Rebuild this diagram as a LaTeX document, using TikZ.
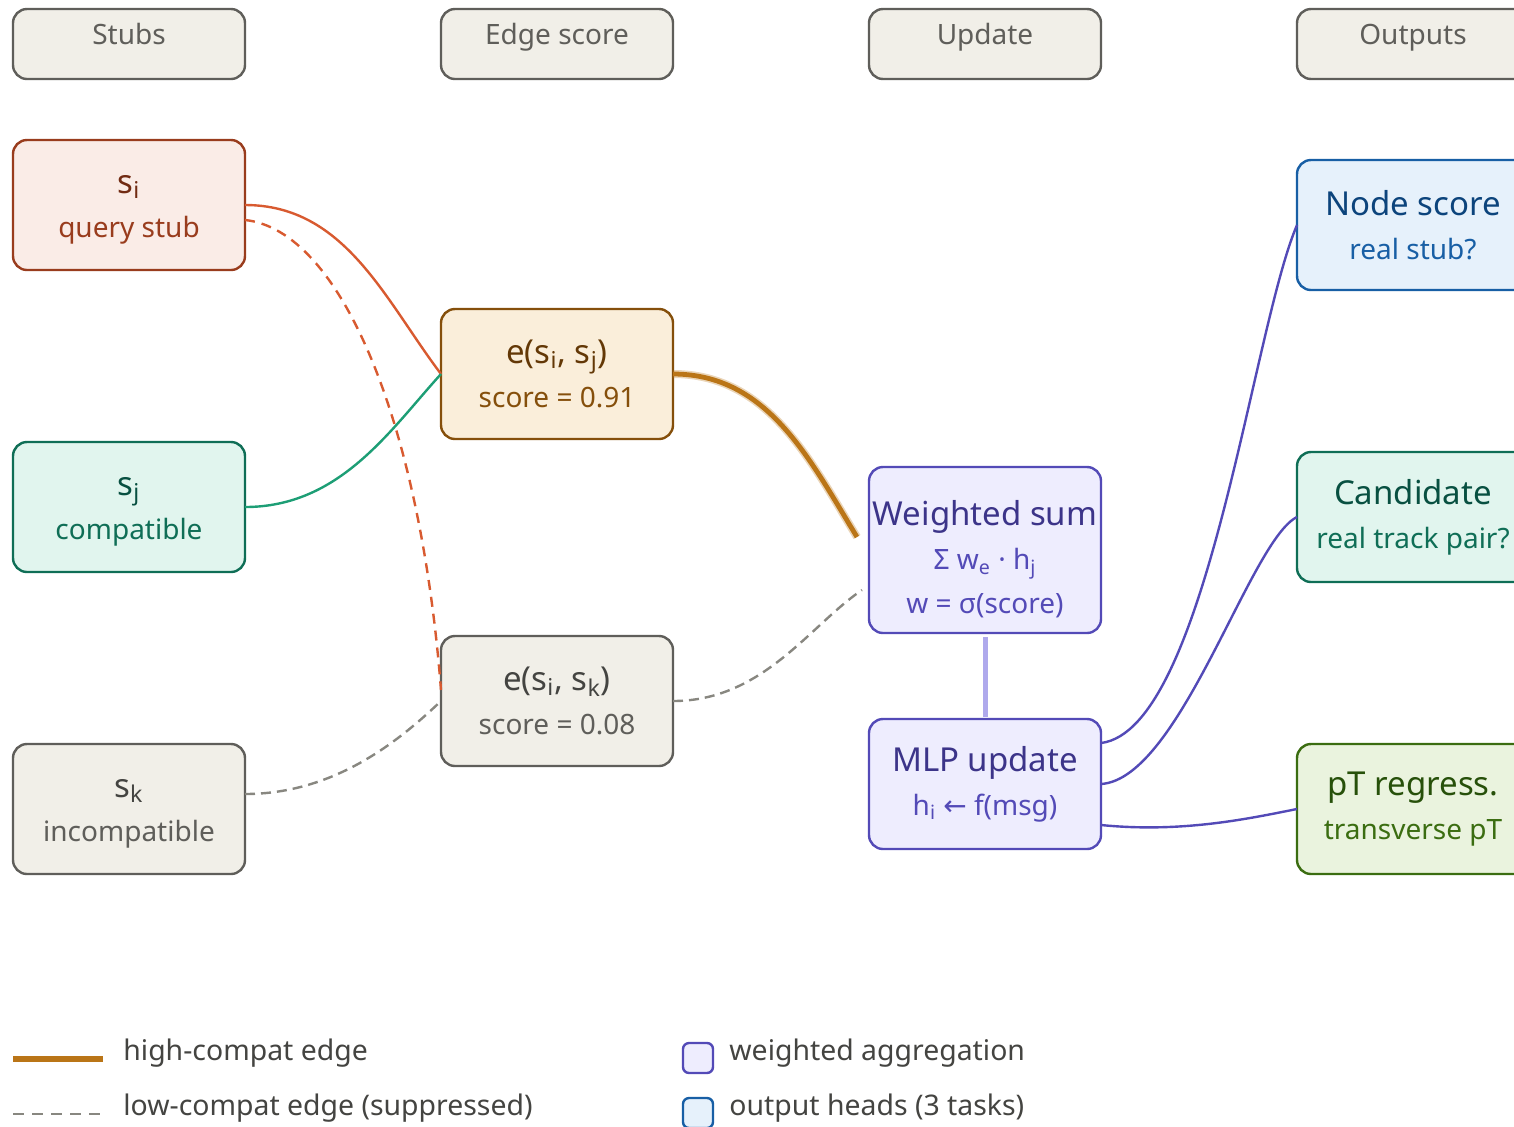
\documentclass[tikz,border=0pt]{standalone}
\usepackage{fontspec}
\setmainfont{Noto Sans}
\newfontfamily\arrowfont{DejaVu Sans}
\usetikzlibrary{positioning}

\definecolor{redfill}{HTML}{FAECE7}\definecolor{redline}{HTML}{993C1D}\definecolor{redtxt}{HTML}{712B13}\definecolor{rededge}{HTML}{D85A30}
\definecolor{grnfill}{HTML}{E1F5EE}\definecolor{grnline}{HTML}{0F6E56}\definecolor{grntxt}{HTML}{085041}\definecolor{grnedge}{HTML}{1D9E75}
\definecolor{gryfill}{HTML}{F1EFE8}\definecolor{gryline}{HTML}{5F5E5A}\definecolor{grytxt}{HTML}{444441}\definecolor{gryedge}{HTML}{888780}
\definecolor{ambfill}{HTML}{FAEEDA}\definecolor{ambline}{HTML}{854F0B}\definecolor{ambtxt}{HTML}{633806}\definecolor{ambedge}{HTML}{BA7517}
\definecolor{purfill}{HTML}{EEEDFE}\definecolor{purline}{HTML}{534AB7}\definecolor{purtxt}{HTML}{3C3489}\definecolor{purlink}{HTML}{AFA9EC}
\definecolor{blufill}{HTML}{E6F1FB}\definecolor{bluline}{HTML}{185FA5}\definecolor{blutxt}{HTML}{0C447C}
\definecolor{limfill}{HTML}{EAF3DE}\definecolor{limline}{HTML}{3B6D11}\definecolor{limtxt}{HTML}{27500A}

\newcommand{\boxtitle}{\fontsize{16.5}{22}\selectfont}
\newcommand{\sbs}[1]{\textsubscript{#1}}
\newcommand{\lift}[1]{\rule{0pt}{#1}}

\begin{document}
\begin{tikzpicture}[x=0.5pt,y=-0.5pt,
	box/.style={rectangle,rounded corners=7pt,draw,line width=1.2pt,minimum width=116pt,minimum height=65pt,inner xsep=0pt,align=center,outer sep=0pt,font=\fontsize{14}{22}\selectfont},
	head/.style={box,minimum height=35pt,fill=gryfill,draw=gryline,text=gryline,text height=8pt,text depth=8pt},
	redbox/.style={box,fill=redfill,draw=redline,text=redline},
	grnbox/.style={box,fill=grnfill,draw=grnline,text=grnline},
	grybox/.style={box,fill=gryfill,draw=gryline,text=gryline},
	ambbox/.style={box,fill=ambfill,draw=ambline,text=ambline},
	purbox/.style={box,fill=purfill,draw=purline,text=purline},
	blubox/.style={box,fill=blufill,draw=bluline,text=bluline},
	limbox/.style={box,fill=limfill,draw=limline,text=limline},
	link/.style={line width=1.2pt},
	weak/.style={line width=1.2pt,draw=gryedge,dash pattern=on 5pt off 3pt},
	swatch/.style={rectangle,rounded corners=3pt,line width=1.2pt,minimum size=15pt,inner sep=0pt},
	legtext/.style={anchor=west,inner sep=0pt,text=grytxt,font=\fontsize{14.2}{16}\selectfont}]
	\useasboundingbox (0,0) rectangle (1514,1126);
	% column heads
	\node (hstubs)[head] at (129,44) {Stubs};
	\node (hedge)[head,right=98pt of hstubs] {Edge score};
	\node (hupd)[head,right=98pt of hedge] {Update};
	\node (hout)[head,right=98pt of hupd] {Outputs};
	% stubs
	\node (si)[redbox,below=30.5pt of hstubs] {\lift{13.5pt}\textcolor{redtxt}{\boxtitle s\sbs{i}}\\query stub};
	\node (sj)[grnbox,below=86pt of si] {\lift{13.5pt}\textcolor{grntxt}{\boxtitle s\sbs{j}}\\compatible};
	\node (sk)[grybox,below=86pt of sj] {\lift{13.5pt}\textcolor{grytxt}{\boxtitle s\sbs{k}}\\incompatible};
	% edge scores
	\node (eij)[ambbox,below=115pt of hedge] {\textcolor{ambtxt}{\boxtitle e(s\sbs{i}, s\sbs{j})}\\score = 0.91};
	\node (eik)[grybox,below=98.5pt of eij] {\textcolor{grytxt}{\boxtitle e(s\sbs{i}, s\sbs{k})}\\score = 0.08};
	% update
	\node (wsum)[purbox,minimum height=83pt,below=194pt of hupd] {\lift{22pt}\textcolor{purtxt}{\boxtitle Weighted sum}\\Σ w\sbs{e} · h\sbs{j}\\w = σ(score)};
	\node (mlp)[purbox,below=43pt of wsum] {\textcolor{purtxt}{\boxtitle MLP update}\\h\sbs{i} {\arrowfont ←} f(msg)};
	% outputs
	\node (nscore)[blubox,below=40.5pt of hout] {\textcolor{blutxt}{\boxtitle Node score}\\real stub?};
	\node (cand)[grnbox,below=81pt of nscore] {\textcolor{grntxt}{\boxtitle Candidate}\\real track pair?};
	\node (ptreg)[limbox,below=81pt of cand] {\textcolor{limtxt}{\boxtitle pT regress.}\\transverse pT};

	% edges into the scores
	\draw[link,rededge] (si.east) .. controls +(100,0) and +(-56,-74) .. (eij.west);
	\draw[link,grnedge] (sj.east) .. controls +(95,0) and +(-51,56) .. (eij.west);
	\draw[link,rededge,dash pattern=on 5pt off 3.5pt] ([yshift=-7.5pt]si.east) .. controls +(95,10) and +(-21,-270) .. ([yshift=5.5pt]eik.west);
	\draw[weak] ([yshift=7.5pt]sk.east) .. controls +(90,0) and +(-41,39) .. (eik.west);
	% edges into the aggregation
	\draw[line width=4pt,ambedge,opacity=0.3] (eij.east) .. controls +(95,0) and +(-47,-77) .. ([xshift=-6pt,yshift=6.5pt]wsum.west);
	\draw[line width=2.4pt,ambedge] (eij.east) .. controls +(95,0) and +(-47,-77) .. ([xshift=-6pt,yshift=6.5pt]wsum.west);
	\draw[weak] (eik.east) .. controls +(90,0) and +(-52,35) .. ([xshift=-3.5pt,yshift=-20pt]wsum.west);
	\draw[line width=2.5pt,purlink] ([yshift=-2pt]wsum.south) -- ([yshift=1pt]mlp.north);
	% heads
	\draw[link,purline] ([yshift=20.5pt]mlp.east) .. controls +(105,-13) and +(-45,105) .. (nscore.west);
	\draw[link,purline] (mlp.east) .. controls +(79,-5) and +(-47,23) .. (cand.west);
	\draw[link,purline] ([yshift=-20.5pt]mlp.east) .. controls +(80,8) and +(-50,10) .. (ptreg.west);

	% legend
	\coordinate (hl0) at (13,1059);
	\coordinate (hl1) at (103,1059);
	\coordinate (ll0) at (13,1114);
	\coordinate (ll1) at (103,1114);
	\draw[line width=3pt,ambedge] (hl0) -- (hl1);
	\draw[line width=1.2pt,draw=gryedge,dash pattern=on 5.5pt off 4pt] (ll0) -- (ll1);
	\node (hltext)[legtext] at (123,1053) {high-compat edge};
	\node (lltext)[legtext] at (123,1108) {low-compat edge (suppressed)};
	\node (aggsw)[swatch,fill=purfill,draw=purline] at (698,1058) {};
	\node (headsw)[swatch,fill=blufill,draw=bluline] at (698,1113) {};
	\node (aggtext)[legtext] at (729,1053) {weighted aggregation};
	\node (headtext)[legtext] at (729,1108) {output heads (3 tasks)};
\end{tikzpicture}
\end{document}
